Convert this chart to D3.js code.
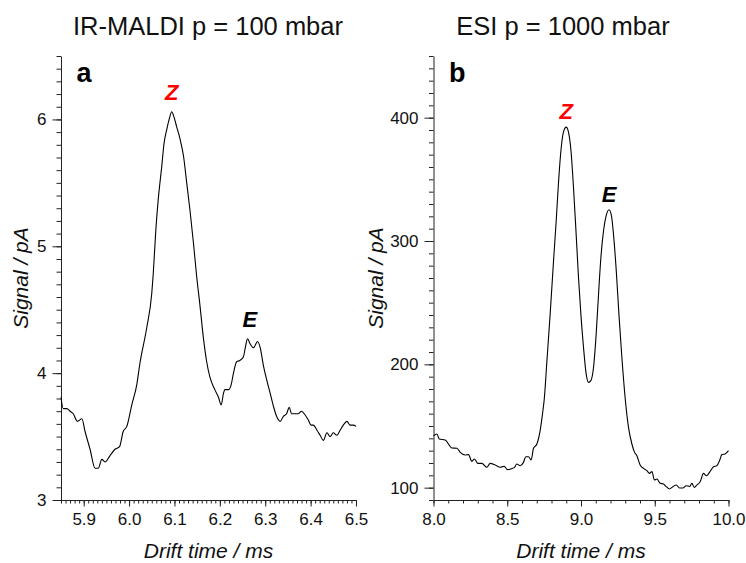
<!DOCTYPE html>
<html>
<head>
<meta charset="utf-8">
<script src="https://cdn.jsdelivr.net/npm/d3@7"></script>
<style>
  html, body { margin: 0; padding: 0; background: #fff; }
  svg { display: block; font-family: "Liberation Sans", Arial, sans-serif; }
</style>
</head>
<body>
<svg id="chart" width="746" height="563"></svg>
<script>
// ---------- Data ----------
const titles = ["IR-MALDI p = 100 mbar", "ESI p = 1000 mbar"];
const panelLetters = ["a", "b"];
const xLabel = "Drift time / ms";
const yLabel = "Signal / pA";

// Panel a: drift time (ms) and signal (pA)
const timeA = [5.850, 5.855, 5.863, 5.870, 5.877, 5.886, 5.896, 5.903, 5.914, 5.925, 5.932, 5.940, 5.947, 5.958, 5.969, 5.979, 5.987, 5.995, 6.006, 6.017, 6.024, 6.039, 6.050, 6.053, 6.059, 6.064, 6.072, 6.077, 6.083, 6.089, 6.094, 6.098, 6.105, 6.112, 6.120, 6.127, 6.134, 6.142, 6.149, 6.156, 6.164, 6.171, 6.178, 6.189, 6.197, 6.203, 6.208, 6.211, 6.219, 6.225, 6.230, 6.237, 6.244, 6.252, 6.256, 6.261, 6.267, 6.274, 6.278, 6.283, 6.289, 6.296, 6.303, 6.311, 6.318, 6.325, 6.333, 6.340, 6.347, 6.353, 6.358, 6.366, 6.373, 6.380, 6.388, 6.395, 6.401, 6.406, 6.414, 6.421, 6.428, 6.436, 6.443, 6.450, 6.458, 6.465, 6.472, 6.480, 6.487, 6.494, 6.500];
const signalA = [3.81, 3.72, 3.72, 3.70, 3.68, 3.62, 3.64, 3.54, 3.40, 3.25, 3.25, 3.32, 3.30, 3.35, 3.40, 3.42, 3.54, 3.58, 3.75, 3.91, 4.08, 4.36, 4.63, 4.77, 5.13, 5.36, 5.63, 5.81, 5.92, 6.01, 6.06, 6.03, 5.94, 5.85, 5.71, 5.50, 5.29, 5.02, 4.76, 4.54, 4.27, 4.09, 3.97, 3.87, 3.81, 3.75, 3.84, 3.87, 3.87, 3.91, 4.00, 4.09, 4.10, 4.13, 4.20, 4.27, 4.23, 4.20, 4.22, 4.25, 4.20, 4.06, 3.95, 3.84, 3.74, 3.66, 3.62, 3.66, 3.68, 3.73, 3.68, 3.68, 3.68, 3.70, 3.67, 3.63, 3.59, 3.59, 3.55, 3.51, 3.47, 3.53, 3.50, 3.53, 3.51, 3.55, 3.59, 3.62, 3.59, 3.59, 3.58];

// Panel b
const timeB = [8.000, 8.023, 8.039, 8.079, 8.125, 8.159, 8.181, 8.215, 8.237, 8.260, 8.278, 8.301, 8.328, 8.362, 8.384, 8.418, 8.452, 8.479, 8.502, 8.532, 8.549, 8.565, 8.588, 8.610, 8.626, 8.644, 8.662, 8.678, 8.701, 8.723, 8.739, 8.751, 8.769, 8.791, 8.814, 8.832, 8.847, 8.864, 8.881, 8.900, 8.915, 8.932, 8.949, 8.967, 8.983, 8.999, 9.017, 9.035, 9.051, 9.067, 9.085, 9.103, 9.119, 9.135, 9.153, 9.171, 9.190, 9.206, 9.220, 9.239, 9.257, 9.277, 9.300, 9.322, 9.345, 9.363, 9.379, 9.401, 9.424, 9.447, 9.464, 9.481, 9.498, 9.515, 9.537, 9.559, 9.578, 9.600, 9.623, 9.646, 9.668, 9.691, 9.713, 9.736, 9.752, 9.768, 9.786, 9.808, 9.830, 9.851, 9.871, 9.898, 9.921, 9.939, 9.955, 9.977, 10.000];
const signalB = [142, 143.5, 139.5, 138.7, 132.2, 131.9, 128.6, 126.5, 126.8, 121.3, 123.3, 119.7, 119.7, 116.5, 119.7, 118.4, 116.5, 117.3, 114.6, 115.6, 116.5, 119.2, 117.8, 120.5, 125.1, 125.1, 122.5, 131.9, 135.4, 146.2, 159.8, 171.9, 203, 240.9, 284.2, 316.6, 346.4, 373.4, 388.3, 392.3, 388.3, 373.4, 343.6, 305.8, 270.6, 240.9, 213.8, 192.2, 185.4, 186.8, 197.6, 224.7, 257.1, 286.8, 308.5, 320.7, 325.3, 320.7, 305.8, 276, 240.9, 205.7, 171.9, 148.9, 135.4, 128.6, 125.9, 118.4, 115.6, 113.8, 111.6, 113, 106.2, 107, 103.5, 103, 100.8, 98.9, 100.8, 102.2, 99.7, 99.7, 101.6, 101, 103.5, 100.2, 102.2, 104.8, 111.6, 109.7, 112.4, 117, 117.8, 121.9, 126.8, 127.3, 130];

// Axis domains and ticks
const xDomainA = [5.85, 6.5];
const yDomainA = [3, 6.5];
const xMajorA = [5.9, 6.0, 6.1, 6.2, 6.3, 6.4, 6.5];
const yMajorA = [3, 4, 5, 6];
const xDomainB = [8, 10];
const yDomainB = [90, 450];
const xMajorB = [8.0, 8.5, 9.0, 9.5, 10.0];
const yMajorB = [100, 200, 300, 400];

// Peak annotations: [label, time, signal]
const peaksA = [["Z", 6.094, 6.06], ["E", 6.266, 4.27]];
const peaksB = [["Z", 8.900, 392.3], ["E", 9.190, 325.3]];

// ---------- Drawing ----------
const svg = d3.select("#chart");
const axisColor = "#222";

function range(a, b, step) {
  const out = [];
  const n = Math.round((b - a) / step);
  for (let i = 0; i <= n; i++) out.push(+(a + i * step).toFixed(6));
  return out;
}

function panel(cfg) {
  const g = svg.append("g");
  const x = d3.scaleLinear().domain(cfg.xDomain).range([cfg.left, cfg.right]);
  const y = d3.scaleLinear().domain(cfg.yDomain).range([cfg.bottom, cfg.top]);

  // minor ticks
  const xMinor = d3.axisBottom(x).tickValues(cfg.xMinor).tickSize(3.5).tickFormat("");
  g.append("g").attr("transform", `translate(0,${cfg.bottom})`).call(xMinor)
    .call(s => s.select(".domain").remove())
    .call(s => s.selectAll("line").attr("stroke", axisColor));
  const yMinor = d3.axisLeft(y).tickValues(cfg.yMinor).tickSize(4.5).tickFormat("");
  g.append("g").attr("transform", `translate(${cfg.left},0)`).call(yMinor)
    .call(s => s.select(".domain").remove())
    .call(s => s.selectAll("line").attr("stroke", axisColor));

  // major ticks + labels
  const xAxis = d3.axisBottom(x).tickValues(cfg.xMajor).tickSize(6.5).tickSizeOuter(0)
    .tickPadding(6).tickFormat(d3.format(".1f"));
  g.append("g").attr("transform", `translate(0,${cfg.bottom})`).call(xAxis)
    .call(s => s.select(".domain").attr("stroke", axisColor))
    .call(s => s.selectAll("line").attr("stroke", axisColor))
    .call(s => s.selectAll("text").attr("font-size", 17).attr("fill", "#111")
      .attr("font-family", "Liberation Sans, Arial, sans-serif"));
  const yAxis = d3.axisLeft(y).tickValues(cfg.yMajor).tickSize(cfg.yTickLen).tickSizeOuter(0)
    .tickPadding(cfg.yPad).tickFormat(d3.format("d"));
  g.append("g").attr("transform", `translate(${cfg.left},0)`).call(yAxis)
    .call(s => s.select(".domain").attr("stroke", axisColor))
    .call(s => s.selectAll("line").attr("stroke", axisColor))
    .call(s => s.selectAll("text").attr("font-size", 17).attr("fill", "#111")
      .attr("font-family", "Liberation Sans, Arial, sans-serif"));

  // curve
  const line = d3.line().x(d => x(d[0])).y(d => y(d[1])).curve(d3.curveMonotoneX);
  g.append("path").datum(cfg.t.map((t, i) => [t, cfg.s[i]]))
    .attr("d", line).attr("fill", "none").attr("stroke", "#000").attr("stroke-width", 1.1)
    .attr("stroke-linejoin", "round");

  // title
  g.append("text").attr("x", cfg.titleX).attr("y", 35).attr("text-anchor", "middle")
    .attr("font-size", 25.5).attr("fill", "#111").text(cfg.title);
  // panel letter
  g.append("text").attr("x", cfg.left + 15.5).attr("y", 81.5)
    .attr("font-size", 27).attr("font-weight", "bold").attr("fill", "#000").text(cfg.letter);
  // axis labels
  g.append("text").attr("x", (cfg.left + cfg.right) / 2).attr("y", 558)
    .attr("text-anchor", "middle").attr("font-size", 21).attr("font-style", "italic")
    .attr("fill", "#111").text(xLabel);
  g.append("text").attr("transform", `translate(${cfg.yLabelX},${(cfg.top + cfg.bottom) / 2}) rotate(-90)`)
    .attr("text-anchor", "middle").attr("font-size", 21).attr("font-style", "italic")
    .attr("fill", "#111").text(yLabel);

  // peak labels
  g.selectAll("text.peak").data(cfg.peaks).enter().append("text").attr("class", "peak")
    .attr("x", d => x(d[1])).attr("y", d => y(d[2]) - cfg.peakGap)
    .attr("text-anchor", "middle").attr("font-size", 22).attr("font-weight", "bold")
    .attr("font-style", "italic")
    .attr("fill", d => d[0] === "Z" ? "#ff0000" : "#000").text(d => d[0]);
}

panel({
  left: 61, right: 356, top: 56, bottom: 500,
  xDomain: xDomainA, yDomain: yDomainA,
  xMajor: xMajorA, yMajor: yMajorA,
  xMinor: range(5.85, 6.5, 0.01), yMinor: range(3, 6.5, 0.1),
  yTickLen: 8.5, yPad: 6,
  t: timeA, s: signalA, title: titles[0], letter: panelLetters[0],
  titleX: 208, yLabelX: 28, peaks: peaksA, peakGap: 12
});
panel({
  left: 433.5, right: 728.5, top: 56, bottom: 500,
  xDomain: xDomainB, yDomain: yDomainB,
  xMajor: xMajorB, yMajor: yMajorB,
  xMinor: range(8, 10, 0.1), yMinor: range(90, 450, 10),
  yTickLen: 9, yPad: 6,
  t: timeB, s: signalB, title: titles[1], letter: panelLetters[1],
  titleX: 563, yLabelX: 383, peaks: peaksB, peakGap: 8
});
</script>
</body>
</html>
